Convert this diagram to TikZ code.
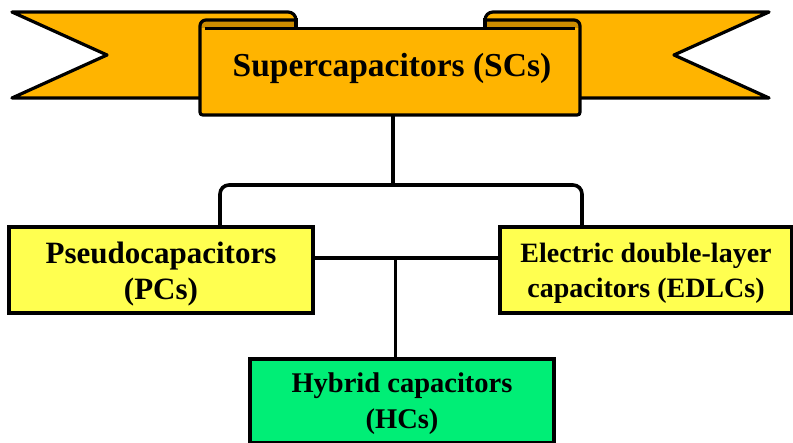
\documentclass[tikz,border=0pt]{standalone}
\usepackage{fontspec}
\setmainfont{Liberation Serif}
\definecolor{banner}{RGB}{255,180,0}
\definecolor{bannerdark}{RGB}{204,140,0}
\definecolor{boxyellow}{RGB}{255,255,80}
\definecolor{boxgreen}{RGB}{0,238,118}
\tikzset{
  outline/.style={draw=black, line width=3.2pt, line join=round},
  conn/.style={draw=black, line width=3.6pt},
  capbox/.style={draw=black, line width=3.6pt, minimum height=86pt, inner sep=0pt},
  captext/.style={align=center, inner sep=0pt, font=\fontsize{29}{36}\selectfont\bfseries}
}
\begin{document}
\begin{tikzpicture}[x=1pt,y=-1pt]
\useasboundingbox (0,0) rectangle (793,443);
% tails
\filldraw[fill=banner, outline] (12,12) -- (288,12) to[out=0,in=90] (296,20) -- (296,98) -- (12,98) -- (107,55) -- cycle;
\filldraw[fill=banner, outline] (769,12) -- (493,12) to[out=180,in=90] (485,20) -- (485,98) -- (769,98) -- (674,55) -- cycle;
% front face
\fill[banner] (206,20) to[out=180,in=90] (200,26) -- (200,109) .. controls (200,115) .. (206,115) -- (574,115) .. controls (580,115) .. (580,109) -- (580,26) to[out=90,in=0] (574,20) -- (485,20) -- (485,28) -- (296,28) -- (296,20) -- cycle;
% curls
\fill[bannerdark] (296,20) -- (206,20) to[out=180,in=90] (200,26) -- (200,28) -- (296,28) -- cycle;
\fill[bannerdark] (485,20) -- (574,20) to[out=0,in=90] (580,26) -- (580,28) -- (485,28) -- cycle;
\draw[outline] (296,20) -- (206,20) to[out=180,in=90] (200,26) -- (200,109) .. controls (200,115) .. (206,115) -- (574,115) .. controls (580,115) .. (580,109) -- (580,26) to[out=90,in=0] (574,20) -- (485,20);
\draw[outline] (205,28.5) -- (575,28.5);
\draw[outline] (296,18) -- (296,28);
\draw[outline] (485,18) -- (485,28);
\node[font=\fontsize{33.5}{40}\selectfont\bfseries, anchor=base] (sc) at (392,77) {Supercapacitors (SCs)};
% boxes
\node[capbox, fill=boxyellow, minimum width=304pt] (pc) at (161,270) {};
\node[capbox, fill=boxyellow, minimum width=292pt] (edlc) at (646,270) {};
\node[capbox, fill=boxgreen, minimum width=304pt, minimum height=84pt] (hc) at (402,401) {};
\node[captext, font=\fontsize{31}{36}\selectfont\bfseries] (pct) at ([yshift=-4pt]pc.center) {Pseudocapacitors\\(PCs)};
\node[captext, font=\fontsize{28}{35}\selectfont\bfseries] (edlct) at ([yshift=-3pt]edlc.center) {Electric double-layer\\capacitors (EDLCs)};
\node[captext, font=\fontsize{28.5}{36}\selectfont\bfseries] (hct) at ([yshift=-2.5pt]hc.center) {Hybrid capacitors\\(HCs)};
% connectors
\coordinate (scb) at (393,115);
\coordinate (split) at (393,185);
\coordinate (mid) at (395.5,258);
\draw[conn] (scb) -- (split);
\draw[conn, rounded corners=9pt] ([xshift=59pt]pc.north) |- (split) -| ([xshift=-64pt]edlc.north);
\draw[conn] ([yshift=12pt]pc.east) -- ([yshift=12pt]edlc.west);
\draw[conn] (mid) -- (mid |- hc.north);
\end{tikzpicture}
\end{document}
